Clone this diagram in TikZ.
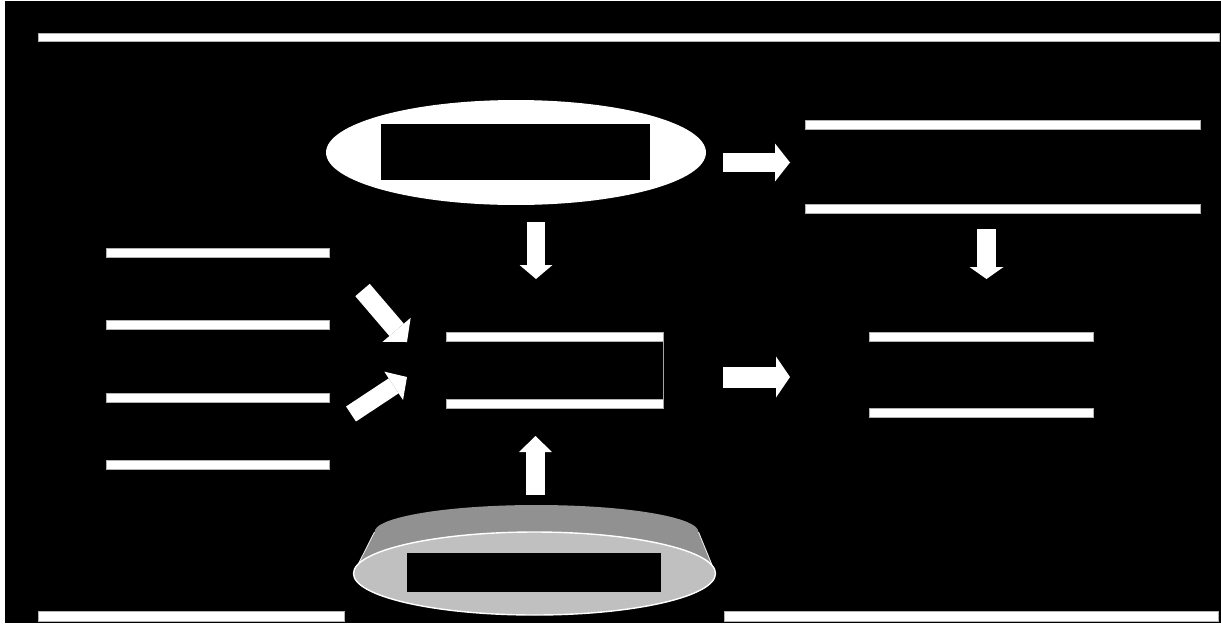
\documentclass[tikz,border=0pt]{standalone}
\usetikzlibrary{shapes.geometric,arrows.meta}
\definecolor{rimgray}{RGB}{145,145,145}
\definecolor{facegray}{RGB}{192,192,192}
\begin{document}
\begin{tikzpicture}[x=0.02cm, y=-0.02cm,
    rule/.style={fill=white, draw=gray!60, line width=0.2pt, inner sep=0pt, minimum height=0.18cm},
    blank/.style={fill=black, inner sep=0pt},
    blk/.style n args={3}{draw=white, line width=#1, -{Triangle[width=#2, length=#3, line width=0pt]}}]
  \useasboundingbox (0,0) rectangle (1221,623);
  \fill[white] (0,0) rectangle (1221,623);
  \fill[black] (5,1) rectangle (1221,623);
  % frame rules
  \node[rule, minimum width=23.62cm, minimum height=0.16cm] (top) at (628.5,37) {};
  \node[rule, minimum width=6.12cm, minimum height=0.2cm] (botl) at (191,616) {};
  \node[rule, minimum width=9.88cm, minimum height=0.2cm] (botr) at (971,616) {};
  % source ellipse
  \node[ellipse, fill=white, inner sep=0pt, minimum width=7.6cm, minimum height=2.1cm] (src) at (516,152.5) {};
  \node[blank, minimum width=5.38cm, minimum height=1.12cm] (srclbl) at (515.5,152) {};
  % left column
  \foreach \y [count=\i] in {252.5,324.5,397.5,464.5}
    \node[rule, minimum width=4.46cm] (in\i) at (217.5,\y) {};
  % middle box
  \node[rule, minimum width=4.34cm] (mid1) at (554.5,336.5) {};
  \node[rule, minimum width=4.34cm] (mid2) at (554.5,403.5) {};
  \draw[gray!70, line width=0.4pt] (mid1.north east) -- (mid2.south east);
  % right boxes
  \node[rule, minimum width=7.9cm] (res1) at (1002.5,124.5) {};
  \node[rule, minimum width=7.9cm] (res2) at (1002.5,208.5) {};
  \node[rule, minimum width=4.48cm] (out1) at (981,336.5) {};
  \node[rule, minimum width=4.48cm] (out2) at (981,412.5) {};
  % base disc
  \fill[rimgray] (536.5,532) ellipse (162 and 27);
  \fill[rimgray] (374.5,532) -- (353.5,573.5) -- (715.5,573.5) -- (698.5,532) -- cycle;
  \draw[white!85!gray, line width=0.5pt] (374.5,532) -- (353.5,573.5) (698.5,532) -- (715.5,573.5);
  \draw[white, line width=0.8pt, fill=facegray] (534.5,573.5) ellipse (181 and 41.5);
  \node[blank, minimum width=5.08cm, minimum height=0.78cm] (base) at (534,572.5) {};
  % block arrows
  \coordinate (a1s) at (723,162.5); \coordinate (a1e) at (790,162.5);
  \coordinate (a2s) at (536,222);   \coordinate (a2e) at (536,279);
  \coordinate (a3s) at (986.5,229); \coordinate (a3e) at (986.5,279);
  \coordinate (a4s) at (723,377);   \coordinate (a4e) at (790,377);
  \coordinate (a5s) at (535.5,495); \coordinate (a5e) at (535.5,436);
  \coordinate (a6s) at (362.5,290); \coordinate (a6e) at (407,342);
  \coordinate (a7s) at (351,414);   \coordinate (a7e) at (407,377);
  \draw[blk={0.38cm}{0.76cm}{0.3cm}] (a1s) -- (a1e);
  \draw[blk={0.36cm}{0.66cm}{0.28cm}] (a2s) -- (a2e);
  \draw[blk={0.38cm}{0.68cm}{0.24cm}] (a3s) -- (a3e);
  \draw[blk={0.42cm}{0.82cm}{0.28cm}] (a4s) -- (a4e);
  \draw[blk={0.38cm}{0.66cm}{0.32cm}] (a5s) -- (a5e);
  \draw[blk={0.38cm}{0.74cm}{0.32cm}] (a6s) -- (a6e);
  \draw[blk={0.36cm}{0.68cm}{0.32cm}] (a7s) -- (a7e);
\end{tikzpicture}
\end{document}
